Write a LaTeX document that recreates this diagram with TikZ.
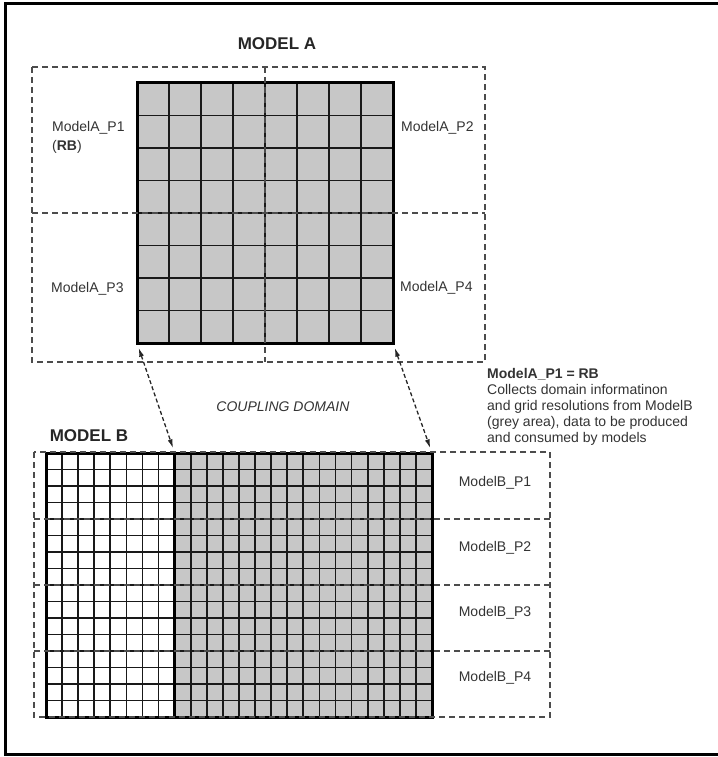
\documentclass[tikz,border=0pt]{standalone}
\usepackage{fontspec}
\setmainfont{Liberation Sans}
\usepackage{tikz}
\usetikzlibrary{arrows.meta, positioning}

\begin{document}
\begin{tikzpicture}[
    x=1pt, y=-1pt,
    cell/.style={draw=black!90, line width=1.7pt},
    gridbox/.style={draw=black, line width=3pt},
    part/.style={draw=black!70, dash pattern=on 6pt off 4pt, line width=1.4pt},
    title/.style={font=\fontsize{17}{20}\selectfont\bfseries, text=black!85, inner sep=0pt},
    partname/.style={font=\fontsize{14}{19}\selectfont, text=black!80, inner sep=0pt, align=left},
    note/.style={font=\fontsize{14}{16}\selectfont, text=black!80, inner sep=0pt, align=left},
    link/.style={{Latex[length=9pt,width=5pt]}-{Latex[length=9pt,width=5pt]}, draw=black!85,
                 dash pattern=on 4pt off 2.5pt, line width=1.3pt, shorten <=5pt, shorten >=5pt}
]
    \useasboundingbox (0,0) rectangle (717,757);
    \draw[line width=3pt] (720,4) -| (5.5,754) -- (720,754);

    % model A grid
    \coordinate (Anw) at (137,83);
    \coordinate (Asw) at (137,343);
    \coordinate (Ase) at (393,343);
    \fill[black!22] (Anw) rectangle (Ase);
    \foreach \i in {1,...,7} {
        \draw[cell] (137+\i*32,83) -- (137+\i*32,343);
        \draw[cell] (137,83+\i*32.5) -- (393,83+\i*32.5);
    }
    \draw[gridbox] (Anw) rectangle (Ase);
    \draw[part] (32,67) rectangle (485,362);
    \draw[part] (32,213) -- (485,213);
    \draw[part] (265,67) -- (265,362);

    \node[title] (titleA) at (277,44) {MODEL A};
    \node[partname, anchor=north west] (pA1) at (52,121) {ModelA\_P1\\(\textbf{RB})};
    \node[partname, anchor=west] (pA2) at (401,128) {ModelA\_P2};
    \node[partname, anchor=west] (pA3) at (51,289) {ModelA\_P3};
    \node[partname, anchor=west] (pA4) at (400,288) {ModelA\_P4};

    % model B grid
    \coordinate (Bnw) at (46,453);
    \coordinate (Bse) at (432,717);
    \coordinate (Bgnw) at (174.7,453);
    \coordinate (Bne) at (432,453);
    \fill[black!22] (Bgnw) rectangle (Bse);
    \foreach \i in {1,...,23}
        \draw[cell] (46+\i*16.083,453) -- (46+\i*16.083,717);
    \foreach \j in {1,...,15}
        \draw[cell] (46,453+\j*16.5) -- (432,453+\j*16.5);
    \draw[cell, line width=2.4pt] (46,585) -- (432,585);
    \draw[gridbox] (Bgnw) -- (174.7,717);
    \draw[gridbox] (Bnw) rectangle (Bse);
    \draw[part] (34,452) rectangle (550,717);
    \foreach \y in {519,585,651}
        \draw[part] (34,\y) -- (550,\y);

    \node[title] (titleB) at (89,436) {MODEL B};
    \node[partname] (pB1) at (495,483) {ModelB\_P1};
    \node[partname] (pB2) at (495,548) {ModelB\_P2};
    \node[partname] (pB3) at (495,613) {ModelB\_P3};
    \node[partname] (pB4) at (495,678) {ModelB\_P4};

    % coupling
    \node[partname, font=\fontsize{14}{16}\selectfont\itshape] (coupling) at (283,407) {COUPLING DOMAIN};
    \draw[link] (Asw) -- (Bgnw);
    \draw[link] (Ase) -- (Bne);

    \node[note, anchor=north west] (rb) at (487,368)
        {\textbf{ModelA\_P1 = RB}\\Collects domain informatinon\\and grid resolutions from ModelB\\(grey area), data to be produced\\and consumed by models};
\end{tikzpicture}
\end{document}
